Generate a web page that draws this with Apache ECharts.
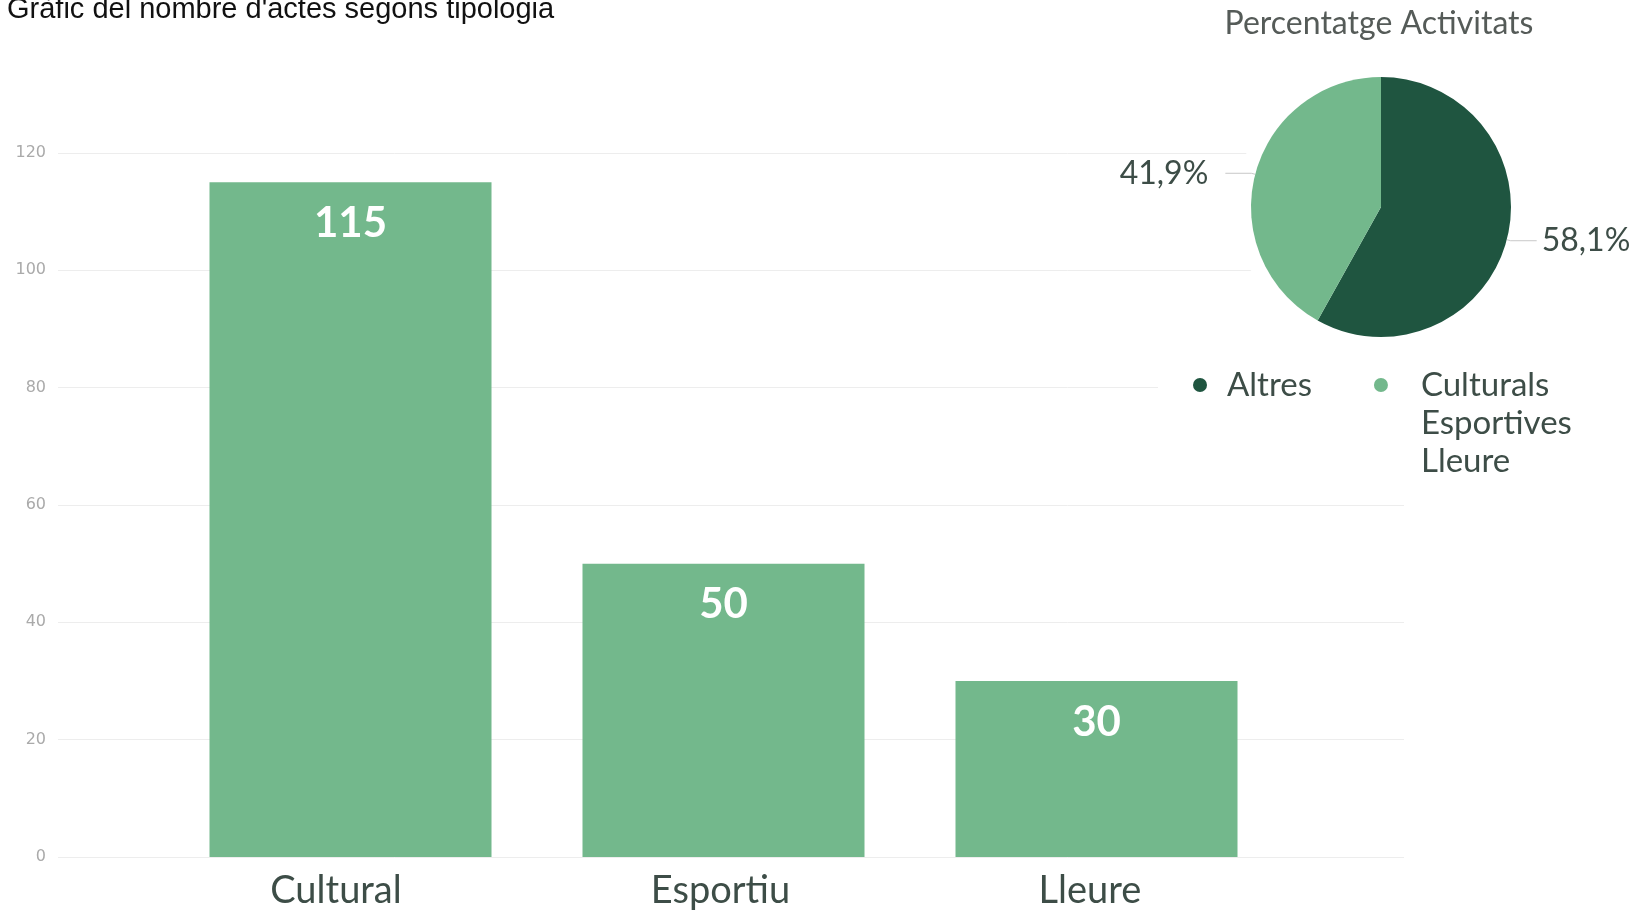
<!DOCTYPE html>
<html>
<head>
<meta charset="utf-8">
<script src="https://cdn.jsdelivr.net/npm/echarts@6/dist/echarts.min.js"></script>
<style>
html,body{margin:0;padding:0;background:#fff;}
#main{width:1645px;height:911px;}
</style>
</head>
<body>
<div id="main"></div>
<script>
const categories = ['Cultural', 'Esportiu', 'Lleure'];
const barValues = [115, 50, 30];
const yTicks = [0, 20, 40, 60, 80, 100, 120];
const pieNames = ['Altres', 'Culturals\nEsportives\nLleure'];
const pieValues = [58.1, 41.9];

// layout (not data)
const PIE_CX = 1381, PIE_CY = 207, PIE_R = 130;
const labelShift = [29, 6, 13];

const chart = echarts.init(document.getElementById('main'));
const yMin = yTicks[0], yMax = yTicks[yTicks.length - 1], yStep = yTicks[1] - yTicks[0];

chart.setOption({
  backgroundColor: '#ffffff',
  animation: false,
  title: [
    {
      text: "Gràfic del nombre d'actes segons tipologia",
      left: 2, top: -10,
      textStyle: { fontFamily: 'Liberation Sans, Arial', fontSize: 29, fontWeight: 'normal', color: '#111111' }
    },
    {
      text: 'Percentatge Activitats',
      left: 1374, top: 3, textAlign: 'center',
      textStyle: { fontFamily: 'Lato', fontSize: 32, fontWeight: 'normal', color: '#555b58' }
    }
  ],
  graphic: [
    { type: 'circle', z: 1, silent: true, shape: { cx: PIE_CX, cy: PIE_CY, r: PIE_R + 15 }, style: { fill: '#ffffff' } },
    { type: 'rect', z: 1, silent: true, shape: { x: 1158, y: 350, width: 300, height: 120 }, style: { fill: '#ffffff' } }
  ],
  grid: [
    { left: 58, right: 241, top: 153, bottom: 54 },
    { left: 164, right: 362, top: 153, bottom: 54 }
  ],
  xAxis: [
    { type: 'category', gridIndex: 0, data: categories, show: false },
    {
      type: 'category', gridIndex: 1,
      data: categories.map((c, i) => ({ value: c, textStyle: { padding: [0, labelShift[i], 0, 0] } })),
      axisLine: { show: false }, axisTick: { show: false },
      axisLabel: { margin: 15, fontFamily: 'Lato', fontSize: 38, color: '#3d4d47' }
    }
  ],
  yAxis: [
    {
      type: 'value', gridIndex: 0, min: yMin, max: yMax, interval: yStep,
      axisLine: { show: false }, axisTick: { show: false },
      axisLabel: { margin: 12, fontFamily: 'DejaVu Sans', fontSize: 16, color: '#aaaaaa' },
      splitLine: { lineStyle: { color: '#ededed', width: 1 } }
    },
    {
      type: 'value', gridIndex: 1, min: yMin, max: yMax, interval: yStep, show: false,
      splitLine: { show: false }
    }
  ],
  legend: {
    data: pieNames,
    left: 1188, top: 285,
    orient: 'horizontal',
    icon: 'circle',
    itemWidth: 44, itemHeight: 14, itemGap: 62,
    formatter: name => name.indexOf('\n') >= 0
      ? '\n\n' + name.split('\n').map(l => '{sp|}' + l).join('\n')
      : name,
    textStyle: {
      fontFamily: 'Lato', fontSize: 33, color: '#3d4d47', lineHeight: 38,
      rich: { sp: { width: 13, lineHeight: 38, fontSize: 33 } }
    }
  },
  series: [
    {
      type: 'bar', xAxisIndex: 1, yAxisIndex: 1,
      data: barValues, barWidth: 282,
      itemStyle: { color: '#73b88c' },
      label: {
        show: true, position: 'insideTop', distance: 20,
        fontFamily: 'Lato', fontWeight: 'bold', fontSize: 42, color: '#ffffff'
      }
    },
    {
      type: 'pie',
      center: [PIE_CX, PIE_CY], radius: PIE_R,
      startAngle: 90, clockwise: true,
      data: pieNames.map((n, i) => ({
        name: n, value: pieValues[i],
        label: { padding: i === 1 ? [0, 12, 0, 0] : [0, 0, 0, 0] }
      })),
      color: ['#1f5540', '#73b88c'],
      itemStyle: { borderWidth: 0 },
      label: {
        show: true, position: 'outside',
        formatter: p => p.percent.toFixed(1).replace('.', ',') + '%',
        fontFamily: 'Lato', fontSize: 32, color: '#3d4d47'
      },
      labelLine: { show: true, length: 4, length2: 26, lineStyle: { color: '#c8c8c8', width: 1 } }
    }
  ]
});
</script>
</body>
</html>
